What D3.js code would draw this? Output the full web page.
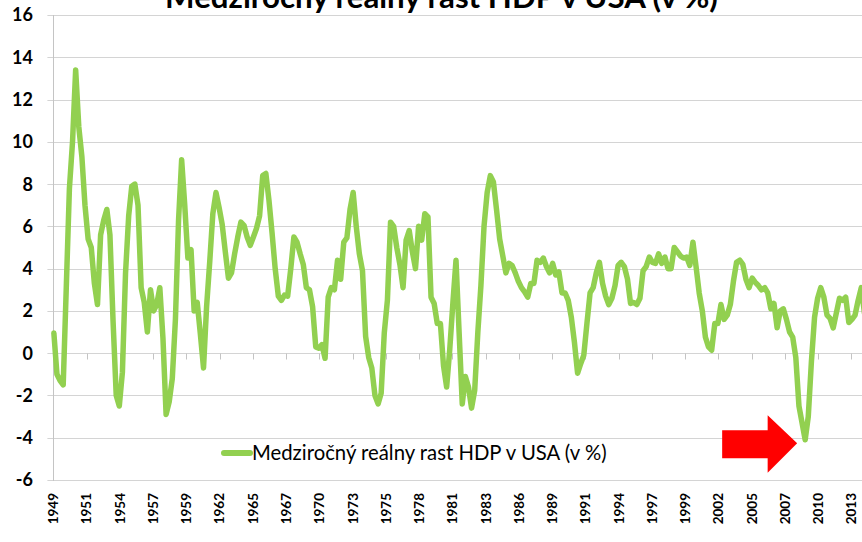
<!DOCTYPE html>
<html>
<head>
<meta charset="utf-8">
<script src="https://cdn.jsdelivr.net/npm/d3@7"></script>
<style>
    body { margin: 0; background: #fff; }
    svg { display: block; font-family: Lato, "Open Sans", sans-serif; }
</style>
</head>
<body>
<div id="chart"></div>
<script>
const title = 'Medziročný reálny rast HDP v USA (v %)';
const seriesName = 'Medziročný reálny rast HDP v USA (v %)';
const startYear = 1949;

// medziročný rast, štvrťročne od 1949 Q1
const growth = [
    0.95, -1.0, -1.3, -1.5,     // 1949
    3.2, 7.8, 10.0, 13.4,
    10.7, 9.3, 7.0, 5.4,
    5.0, 3.3, 2.3, 5.6,
    6.3, 6.8, 5.6, 1.5,
    -2.0, -2.5, -0.9, 3.8,
    6.5, 7.9, 8.0, 7.0,
    3.1, 2.4, 1.0, 3.0,
    2.0, 2.3, 3.1, 0.7,
    -2.9, -2.3, -1.2, 1.6,
    6.3, 9.15, 7.0, 4.5,        // 1959
    4.9, 2.0, 2.4, 0.9,
    -0.7, 2.2, 4.3, 6.6,
    7.6, 6.9, 6.1, 4.8,
    3.55, 3.8, 4.7, 5.5,
    6.2, 6.05, 5.5, 5.1,
    5.5, 5.9, 6.5, 8.4,
    8.5, 7.25, 5.7, 4.0,
    2.7, 2.5, 2.75, 2.7,
    4.0, 5.5, 5.25, 4.7,
    4.2, 3.1, 3.0, 2.2,         // 1969
    0.3, 0.24, 0.4, -0.24,
    2.65, 3.1, 3.0, 4.4,
    3.5, 5.25, 5.45, 6.8,
    7.6, 6.0, 4.7, 3.9,
    0.8, -0.2, -0.7, -2.0,
    -2.4, -1.9, 0.95, 2.5,
    6.2, 6.0, 5.0, 4.2,
    3.1, 5.35, 5.8, 4.8,
    4.0, 6.0, 5.35, 6.6,
    6.45, 2.65, 2.35, 1.4,      // 1979
    1.4, -0.6, -1.6, 0.2,
    2.4, 4.4, 1.0, -2.4,
    -1.1, -1.6, -2.6, -1.75,
    1.0, 3.2, 6.0, 7.6,
    8.4, 8.1, 6.8, 5.4,
    4.6, 3.8, 4.25, 4.15,
    3.8, 3.4, 3.1, 2.9,
    2.65, 3.3, 3.3, 4.4,
    4.3, 4.5, 4.1, 3.8,
    4.25, 3.7, 3.85, 2.85,      // 1989
    2.85, 2.5, 1.7, 0.5,
    -0.95, -0.5, -0.1, 1.4,
    2.85, 3.1, 3.8, 4.3,
    3.3, 2.7, 2.3, 2.6,
    3.2, 4.15, 4.3, 4.1,
    3.5, 2.35, 2.4, 2.3,
    2.6, 3.9, 4.1, 4.55,
    4.3, 4.25, 4.7, 4.25,
    4.55, 4.0, 4.0, 5.0,
    4.8, 4.6, 4.5, 4.55,        // 1999
    4.15, 5.25, 4.1, 2.85,
    2.0, 0.76, 0.3, 0.14,
    1.4, 1.4, 2.3, 1.6,
    1.8, 2.3, 3.4, 4.3,
    4.4, 4.2, 3.5, 3.1,
    3.55, 3.35, 3.2, 3.0,
    3.1, 2.85, 2.1, 2.35,
    1.2, 2.0, 2.1, 1.6,
    1.0, 0.76, -0.2, -2.5,
    -3.3, -4.1, -3.0, -0.4,     // 2009
    1.7, 2.6, 3.1, 2.65,
    1.8, 1.65, 1.2, 1.9,
    2.6, 2.5, 2.65, 1.45,
    1.6, 1.8, 2.5, 3.1,
    1.9                          // 2014 Q1
];

const yTicks = [16, 14, 12, 10, 8, 6, 4, 2, 0, -2, -4, -6];
const xTickLabels = ['1949', '1951', '1954', '1957', '1959', '1962', '1965', '1967', '1970',
    '1973', '1975', '1978', '1981', '1983', '1986', '1989', '1991', '1994', '1997', '1999',
    '2002', '2005', '2007', '2010', '2013'];
const tickStepMonths = 32;

const quarters = growth.map((v, i) => new Date(startYear + Math.floor(i / 4), (i % 4) * 3, 15));
const data = growth.map((v, i) => ({ date: quarters[i], value: v }));

const width = 862, height = 542;
const plotLeft = 53.4, plotTop = 15, plotBottom = 480;
const pxPerYear = 12.47;

const svg = d3.select('#chart').append('svg')
    .attr('width', width)
    .attr('height', height);

const x = d3.scaleTime()
    .domain([new Date(startYear, 0, 1), new Date(2014, 0, 1)])
    .range([plotLeft, plotLeft + 65 * pxPerYear]);

const y = d3.scaleLinear()
    .domain([-6, 16])
    .range([plotBottom, plotTop]);

// mriežka
svg.append('g')
    .selectAll('line')
    .data(yTicks)
    .enter().append('line')
    .attr('x1', plotLeft - 6)
    .attr('x2', width)
    .attr('y1', d => Math.round(y(d)) + 0.5)
    .attr('y2', d => Math.round(y(d)) + 0.5)
    .style('stroke', '#d4d4d4')
    .style('stroke-width', 1);

svg.append('line')
    .attr('x1', Math.round(plotLeft) + 0.5)
    .attr('x2', Math.round(plotLeft) + 0.5)
    .attr('y1', plotTop)
    .attr('y2', plotBottom + 1)
    .style('stroke', '#c4c4c4');

// y popisky
svg.append('g')
    .selectAll('text')
    .data(yTicks)
    .enter().append('text')
    .attr('x', 33)
    .attr('y', d => y(d))
    .attr('dy', '0.36em')
    .attr('text-anchor', 'end')
    .style('font-size', '18px')
    .style('font-weight', 'bold')
    .text(d => d);

// x os cez nulu
const tickDates = xTickLabels.map((d, i) => new Date(startYear, i * tickStepMonths, 1));
const y0 = Math.round(y(0)) + 0.5;

svg.append('g')
    .selectAll('line')
    .data(tickDates)
    .enter().append('line')
    .attr('x1', d => Math.round(x(d)) + 0.5)
    .attr('x2', d => Math.round(x(d)) + 0.5)
    .attr('y1', y0)
    .attr('y2', y0 + 6)
    .style('stroke', '#c4c4c4');

svg.append('g')
    .selectAll('text')
    .data(tickDates)
    .enter().append('text')
    .attr('transform', d => `translate(${x(d)},493) rotate(-90)`)
    .attr('dy', '0.36em')
    .attr('text-anchor', 'end')
    .style('font-size', '13.5px')
    .style('font-weight', 'bold')
    .text((d, i) => xTickLabels[i]);

// krivka
const line = d3.line()
    .x(d => x(d.date))
    .y(d => y(d.value));

svg.append('path')
    .datum(data)
    .attr('d', line)
    .style('fill', 'none')
    .style('stroke', '#92d050')
    .style('stroke-width', 5.5)
    .style('stroke-linejoin', 'round')
    .style('stroke-linecap', 'round');

// šípka na dno krízy
const trough = data.reduce((a, b) => (b.value < a.value ? b : a));
const tx = x(trough.date) - 8, ty = y(trough.value) + 3.5;
svg.append('path')
    .attr('d', `M${tx - 75},${ty - 13} L${tx - 29.5},${ty - 13} L${tx - 29.5},${ty - 28}
        L${tx},${ty} L${tx - 29.5},${ty + 29.5} L${tx - 29.5},${ty + 15} L${tx - 75},${ty + 15} Z`)
    .style('fill', '#ff0000');

// nadpis
const fitText = (sel, target) => {
    const fs = parseFloat(sel.style('font-size'));
    const len = sel.node().getComputedTextLength();
    sel.style('font-size', (fs * target / len) + 'px');
};

const titleText = svg.append('text')
    .attr('x', 441.5)
    .attr('y', 8)
    .attr('text-anchor', 'middle')
    .style('font-size', '24px')
    .style('font-weight', 'bold')
    .text(title);
fitText(titleText, 553);

// legenda
const legend = svg.append('g');
legend.append('line')
    .attr('x1', 224)
    .attr('x2', 250)
    .attr('y1', 453)
    .attr('y2', 453)
    .style('stroke', '#92d050')
    .style('stroke-width', 6)
    .style('stroke-linecap', 'round');
const legendText = legend.append('text')
    .attr('x', 252)
    .attr('y', 460)
    .style('font-size', '19px')
    .text(seriesName);
fitText(legendText, 355);
</script>
</body>
</html>
